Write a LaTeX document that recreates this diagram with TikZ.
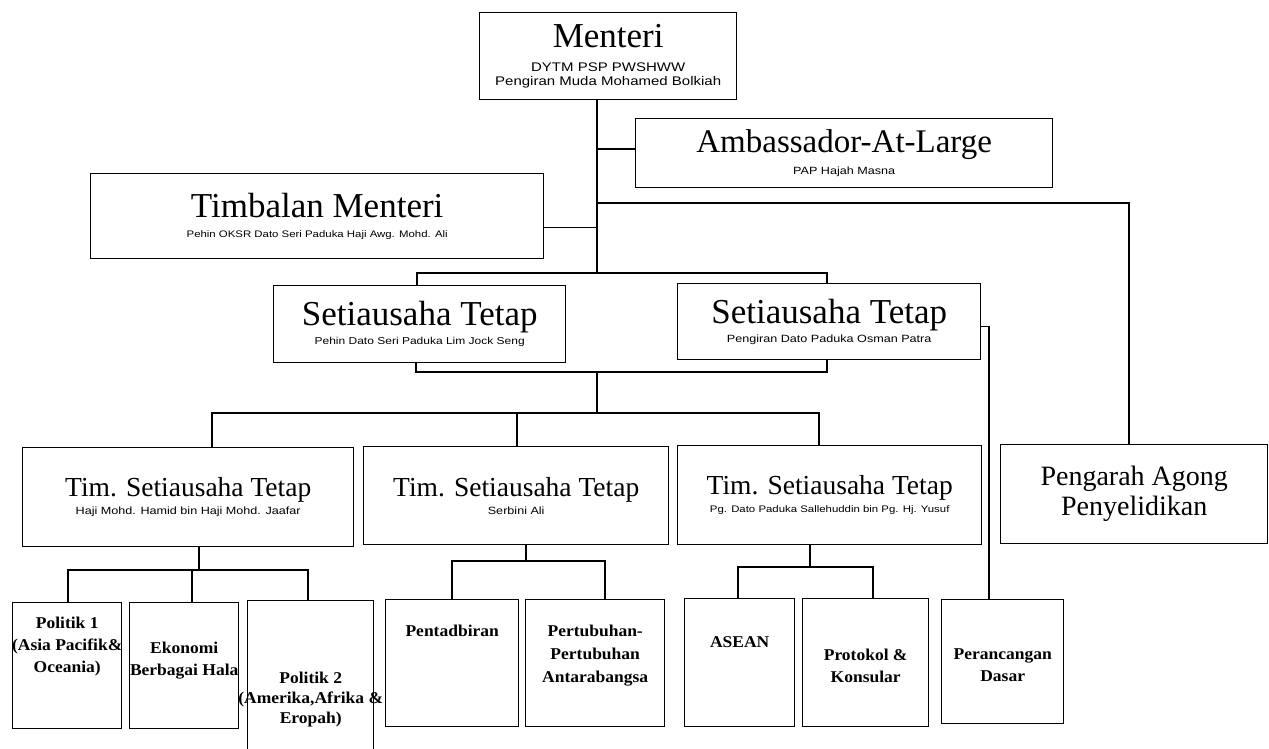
\documentclass[tikz,border=0pt]{standalone}
\usepackage{fontspec}
\setmainfont{Liberation Serif}
\newfontfamily\namefont[FakeStretch=1.2]{Liberation Sans}
\newfontfamily\unitfont[FakeStretch=1.06]{Liberation Serif}
\usetikzlibrary{positioning}

\begin{document}
\begin{tikzpicture}[x=1pt, y=-1pt, line width=1.4pt,
   box/.style={draw, rectangle, anchor=north west, inner sep=0pt, align=center},
   unitlbl/.style={anchor=north, inner sep=0pt, align=center,
      font=\unitfont\bfseries\fontsize{16.5}{22}\selectfont}]
   \clip (0,0) rectangle (1269,749);

   \node[box, minimum width=257pt, minimum height=87pt,
      font=\namefont\fontsize{12.5}{14}\selectfont] (menteri) at (479,12)
      {{\rmfamily\fontsize{35}{35}\selectfont Menteri}\\[10pt]
       DYTM PSP PWSHWW\\Pengiran Muda Mohamed Bolkiah};
   \node[box, minimum width=417pt, minimum height=69pt,
      font=\namefont\fontsize{10.5}{22}\selectfont] (amb) at (635,118)
      {{\rmfamily\fontsize{33}{33}\selectfont Ambassador-At-Large}\\PAP Hajah Masna};
   \node[box, minimum width=453pt, minimum height=85pt,
      font=\namefont\fontsize{9.5}{20}\selectfont] (timb) at (90,173)
      {{\rmfamily\fontsize{35}{35}\selectfont Timbalan Menteri}\\
       Pehin OKSR Dato Seri Paduka Haji Awg. Mohd. Ali};
   \node[box, minimum width=292pt, minimum height=77pt,
      font=\namefont\fontsize{10}{19}\selectfont] (st1) at (273,285)
      {{\rmfamily\fontsize{35}{35}\selectfont Setiausaha Tetap}\\
       Pehin Dato Seri Paduka Lim Jock Seng};
   \node[box, minimum width=303pt, minimum height=76pt,
      font=\namefont\fontsize{10.5}{19}\selectfont] (st2) at (677,283)
      {{\rmfamily\fontsize{35}{35}\selectfont Setiausaha Tetap}\\
       Pengiran Dato Paduka Osman Patra};

   \node[box, minimum width=331pt, minimum height=99pt,
      font=\namefont\fontsize{10.5}{18}\selectfont] (tim1) at (22,447)
      {{\rmfamily\fontsize{27.5}{27.5}\selectfont Tim. Setiausaha Tetap}\\
       Haji Mohd. Hamid bin Haji Mohd. Jaafar};
   \node[box, minimum width=305pt, minimum height=98pt,
      font=\namefont\fontsize{10.5}{18}\selectfont] (tim2) at (363,446)
      {{\rmfamily\fontsize{27.5}{27.5}\selectfont Tim. Setiausaha Tetap}\\
       Serbini Ali};
   \node[box, minimum width=304pt, minimum height=99pt,
      font=\namefont\fontsize{9.5}{18}\selectfont] (tim3) at (677,445)
      {{\rmfamily\fontsize{27.5}{27.5}\selectfont Tim. Setiausaha Tetap}\\
       Pg. Dato Paduka Sallehuddin bin Pg. Hj. Yusuf};
   \node[box, minimum width=267pt, minimum height=99pt,
      font=\rmfamily\fontsize{28}{30}\selectfont] (peng) at (1000,444)
      {Pengarah Agong\\Penyelidikan};

   \node[box, minimum width=109pt, minimum height=126pt] (pol1) at (12,602) {};
   \node[box, minimum width=109pt, minimum height=126pt] (eko) at (129,602) {};
   \node[box, minimum width=126pt, minimum height=170pt] (pol2) at (247,600) {};
   \node[box, minimum width=133pt, minimum height=127pt] (pent) at (385,599) {};
   \node[box, minimum width=139pt, minimum height=127pt] (pert) at (525,599) {};
   \node[box, minimum width=110pt, minimum height=128pt] (asean) at (684,598) {};
   \node[box, minimum width=126pt, minimum height=128pt] (prot) at (802,598) {};
   \node[box, minimum width=122pt, minimum height=124pt] (peran) at (941,599) {};

   \node[unitlbl] (pol1t) at ([yshift=-14pt]pol1.north) {Politik 1\\(Asia Pacifik\&\\Oceania)};
   \node[unitlbl] (ekot) at ([yshift=-39pt]eko.north) {Ekonomi\\Berbagai Hala};
   \node[unitlbl, font=\unitfont\bfseries\fontsize{16.5}{20}\selectfont] (pol2t)
      at ([yshift=-71pt]pol2.north) {Politik 2\\(Amerika,Afrika \&\\Eropah)};
   \node[unitlbl] (pentt) at ([yshift=-25pt]pent.north) {Pentadbiran};
   \node[unitlbl, font=\unitfont\bfseries\fontsize{16.5}{23}\selectfont] (pertt)
      at ([yshift=-25pt]pert.north) {Pertubuhan-\\Pertubuhan\\Antarabangsa};
   \node[unitlbl] (aseant) at ([yshift=-38pt]asean.north) {ASEAN};
   \node[unitlbl] (prott) at ([yshift=-50pt]prot.north) {Protokol \&\\Konsular};
   \node[unitlbl] (perant) at ([yshift=-49pt]peran.north) {Perancangan\\Dasar};

   \coordinate (top) at (597,273);
   \coordinate (bus) at (597,413);
   \draw (menteri.south -| top) -- (top);
   \draw ([yshift=4pt]amb.west) -- ([yshift=4pt]amb.west -| top);
   \draw ([yshift=-11pt]timb.east) -- ([yshift=-11pt]timb.east -| top);
   \draw (top |- 0,203) -- (1129,203) -- (peng.north -| 1129,0);
   \draw (st1.north -| 417,0) -- (417,273) -- (827,273) -- (st2.north -| 827,0);
   \draw (st2.south -| 827,0) -- (827,372) -- (416,372) -- (st1.south -| 416,0);
   \draw (597,372) -- (bus);
   \draw ([yshift=-5pt]st2.east) -- ([yshift=-5pt]st2.east -| 989,0) -- (peran.north -| 989,0);

   \draw (tim1.north -| 212,0) -- (212,413) -- (819,413) -- (tim3.north -| 819,0);
   \draw (517,413) -- (tim2.north -| 517,0);

   \draw (tim1.south -| 199,0) -- (199,570);
   \draw (pol1.north -| 68,0) -- (68,570) -- (308,570) -- (pol2.north -| 308,0);
   \draw (192,570) -- (eko.north -| 192,0);
   \draw (tim2.south -| 526,0) -- (526,561);
   \draw (pent.north -| 452,0) -- (452,561) -- (605,561) -- (pert.north -| 605,0);
   \draw (tim3.south -| 810,0) -- (810,567);
   \draw (asean.north -| 738,0) -- (738,567) -- (873,567) -- (prot.north -| 873,0);
\end{tikzpicture}
\end{document}
